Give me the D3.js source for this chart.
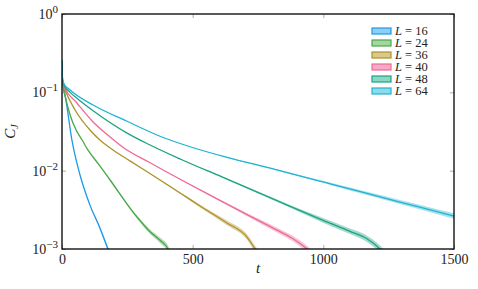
<!DOCTYPE html>
<html>
<head>
<meta charset="utf-8">
<script src="https://cdn.jsdelivr.net/npm/d3@7"></script>
<style>
  body { margin: 0; background: #fff; }
</style>
</head>
<body>
<div id="chart"></div>
<script>
// system sizes shown in the legend
var sizes = [16, 24, 36, 40, 48, 64];
var colors = ["#1d9be6", "#48a84a", "#ae922a", "#ee6a98", "#1ca382", "#20b3d3"];
var fills  = ["#8fcef5", "#a3d6a0", "#d9c98a", "#f5aac6", "#8ad7c5", "#8ed9ea"];

// C_J(t), one set of arrays per L (e = band half-width, decades)
var t16 = [0, 2, 5, 15, 38, 69, 107, 145, 176, 182];
var c16 = [0.259, 0.135, 0.12, 0.0794, 0.0245, 0.00881, 0.00363, 0.00186, 0.001, 0.00089];
var e16 = [0, 0, 0, 0, 0, 0.005, 0.01, 0.02, 0.03, 0.03];

var t24 = [0, 2, 11, 31, 54, 77, 99, 145, 184, 287, 337, 375, 406, 413];
var c24 = [0.259, 0.128, 0.0925, 0.0514, 0.033, 0.0246, 0.0184, 0.0115, 0.0076, 0.00256, 0.00166, 0.00129, 0.001, 0.00089];
var e24 = [0, 0, 0, 0, 0, 0, 0, 0.005, 0.01, 0.02, 0.03, 0.035, 0.04, 0.04];

var t36 = [0, 2, 15, 50, 107, 145, 195, 260, 375, 452, 540, 631, 708, 739, 750];
var c36 = [0.259, 0.1315, 0.101, 0.0595, 0.033, 0.0246, 0.0184, 0.01334, 0.0076, 0.00519, 0.00334, 0.00215, 0.00142, 0.001, 0.00089];
var e36 = [0, 0, 0, 0, 0, 0, 0, 0, 0.005, 0.01, 0.02, 0.03, 0.035, 0.04, 0.04];

var t40 = [0, 2, 11, 57, 119, 184, 233, 337, 452, 593, 719, 823, 884, 930, 949];
var c40 = [0.259, 0.135, 0.1135, 0.0731, 0.0418, 0.0269, 0.01995, 0.0126, 0.00776, 0.00437, 0.00263, 0.00174, 0.00135, 0.00105, 0.00093];
var e40 = [0, 0, 0, 0, 0, 0, 0, 0, 0.005, 0.01, 0.02, 0.03, 0.035, 0.04, 0.04];

var t48 = [0, 2, 8, 31, 57, 119, 249, 329, 452, 612, 807, 911, 999, 1102, 1167, 1217, 1232];
var c48 = [0.259, 0.1445, 0.123, 0.1, 0.0841, 0.0582, 0.0302, 0.0219, 0.0141, 0.00832, 0.00437, 0.00309, 0.00232, 0.00168, 0.00135, 0.001, 0.00089];
var e48 = [0, 0, 0, 0, 0, 0, 0, 0, 0.004, 0.008, 0.015, 0.02, 0.03, 0.035, 0.04, 0.045, 0.045];

var t64 = [0, 2, 8, 31, 119, 249, 375, 490, 631, 807, 987, 1037, 1167, 1293, 1420, 1500];
var c64 = [0.259, 0.152, 0.128, 0.107, 0.0689, 0.0427, 0.0275, 0.0202, 0.0148, 0.01056, 0.00736, 0.00665, 0.00513, 0.00398, 0.00309, 0.00263];
var e64 = [0, 0, 0, 0, 0, 0, 0, 0, 0.004, 0.008, 0.012, 0.015, 0.02, 0.025, 0.03, 0.035];

var xTicks = [0, 500, 1000, 1500];
var yTicks = [1e-3, 1e-2, 1e-1, 1];
var yExp = ["\u22123", "\u22122", "\u22121", "0"];

var series = [
  { L: 16, t: t16, c: c16, e: e16 },
  { L: 24, t: t24, c: c24, e: e24 },
  { L: 36, t: t36, c: c36, e: e36 },
  { L: 40, t: t40, c: c40, e: e40 },
  { L: 48, t: t48, c: c48, e: e48 },
  { L: 64, t: t64, c: c64, e: e64 }
];

var serif = "'Liberation Serif', 'DejaVu Serif', serif";

var margin = { top: 14, left: 62, right: 24, bottom: 40 },
    width = 478 - margin.left - margin.right,
    height = 289 - margin.top - margin.bottom;

var svg = d3.select("#chart")
  .append("svg")
  .attr("width", 478)
  .attr("height", 289)
  .append("g")
  .attr("transform", "translate(" + margin.left + "," + margin.top + ")");

var x = d3.scaleLinear().domain([0, 1500]).range([0, width]);
var y = d3.scaleLog().domain([1e-3, 1]).range([height, 0]);

svg.append("clipPath").attr("id", "clip")
  .append("rect").attr("width", width).attr("height", height);

var plot = svg.append("g").attr("clip-path", "url(#clip)");

var line = d3.line()
  .x(function(d) { return x(d.t); })
  .y(function(d) { return y(d.c); })
  .curve(d3.curveMonotoneX);

var band = d3.area()
  .x(function(d) { return x(d.t); })
  .y0(function(d) { return y(d.c / Math.pow(10, d.e)); })
  .y1(function(d) { return y(d.c * Math.pow(10, d.e)); })
  .curve(d3.curveMonotoneX);

series.forEach(function(s, i) {
  s.pts = s.t.map(function(t, j) { return { t: t, c: s.c[j], e: s.e[j] }; });
  plot.append("path")
    .attr("d", band(s.pts))
    .attr("fill", colors[i])
    .attr("fill-opacity", 0.4);
});

series.forEach(function(s, i) {
  plot.append("path")
    .attr("d", line(s.pts))
    .attr("fill", "none")
    .attr("stroke", colors[i])
    .attr("stroke-width", 1.3);
});

// axes with inward ticks
var xAxis = svg.append("g")
  .attr("transform", "translate(0," + height + ")")
  .call(d3.axisBottom(x).tickValues(xTicks).tickSize(-4).tickPadding(5).tickFormat(d3.format("d")));
var xTop = svg.append("g")
  .call(d3.axisTop(x).tickValues(xTicks).tickSize(-4).tickFormat(""));
var yAxis = svg.append("g")
  .call(d3.axisLeft(y).tickValues(yTicks).tickSize(-4).tickPadding(4).tickFormat(""));
var yRight = svg.append("g")
  .attr("transform", "translate(" + width + ",0)")
  .call(d3.axisRight(y).tickValues(yTicks).tickSize(-4).tickFormat(""));

[xAxis, xTop, yAxis, yRight].forEach(function(a) {
  a.select(".domain").remove();
  a.selectAll(".tick line").attr("stroke", "#999").attr("stroke-width", 0.8);
});

xAxis.selectAll(".tick text")
  .style("font-family", serif)
  .style("font-size", "14px")
  .attr("fill", "#222");

yAxis.selectAll(".tick text").each(function(d, i) {
  var tx = d3.select(this)
    .style("font-family", serif)
    .style("font-size", "14px")
    .attr("fill", "#222")
    .attr("dy", "0.32em");
  tx.append("tspan").text("10");
  tx.append("tspan").style("font-size", "11px").attr("dy", "-0.55em").text(yExp[i]);
});

svg.append("rect")
  .attr("width", width)
  .attr("height", height)
  .attr("fill", "none")
  .attr("stroke", "#000")
  .attr("stroke-width", 1.3);

// axis labels
svg.append("text")
  .attr("x", width / 2)
  .attr("y", height + 24)
  .attr("text-anchor", "middle")
  .style("font-family", serif)
  .style("font-size", "15px")
  .style("font-style", "italic")
  .attr("fill", "#222")
  .text("t");

var yl = svg.append("text")
  .attr("transform", "translate(-47," + (height / 2) + ") rotate(-90)")
  .attr("text-anchor", "middle")
  .style("font-family", serif)
  .style("font-size", "15px")
  .style("font-style", "italic")
  .attr("fill", "#222");
yl.append("tspan").text("C");
yl.append("tspan").style("font-size", "10px").attr("dy", 3).text("J");

// legend
var legend = svg.append("g").attr("transform", "translate(310,17)");
sizes.forEach(function(L, i) {
  var row = legend.append("g").attr("transform", "translate(0," + (i * 12) + ")");
  row.append("rect")
    .attr("x", 0).attr("y", -3)
    .attr("width", 19).attr("height", 6)
    .attr("fill", fills[i])
    .attr("stroke", colors[i])
    .attr("stroke-width", 1.2);
  var tx = row.append("text")
    .attr("x", 23).attr("y", 4)
    .style("font-family", serif)
    .style("font-size", "12.5px")
    .attr("fill", "#222");
  tx.append("tspan").style("font-style", "italic").text("L");
  tx.append("tspan").text(" = " + L);
});
</script>
</body>
</html>
